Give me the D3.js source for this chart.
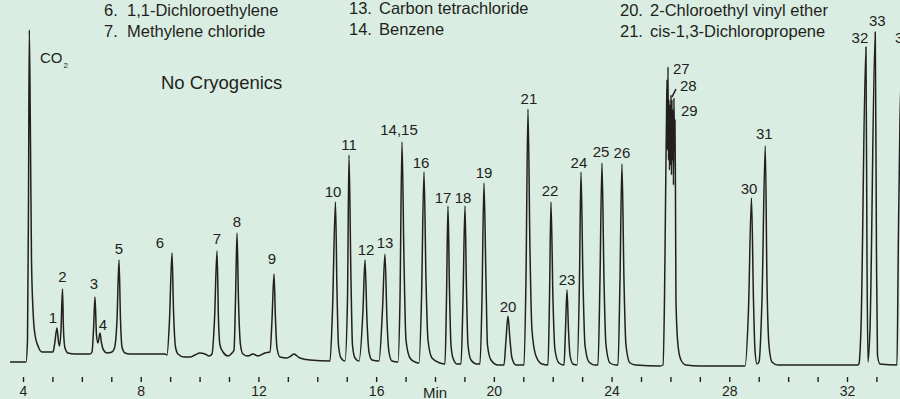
<!DOCTYPE html>
<html>
<head>
<meta charset="utf-8">
<script src="https://cdn.jsdelivr.net/npm/d3@7"></script>
<style>
html,body{margin:0;padding:0;background:#d9ede2;}
svg{display:block;}
text{font-family:"Liberation Sans",Arial,Helvetica,sans-serif;fill:#231f20;}
</style>
</head>
<body>
<svg id="chart" width="900" height="399"></svg>
<script>
// ---------- data (time in minutes, detector response in arbitrary units) ----------
const traceTime = [
  3.558, 4.102, 4.153, 4.187, 4.214, 4.248, 4.289, 4.340, 4.408, 4.510, 4.646, 4.849, 5.019,
  5.070, 5.155, 5.206, 5.240, 5.291, 5.342, 5.376, 5.427, 5.529, 5.767, 6.277, 6.345,
  6.396, 6.446, 6.497, 6.548, 6.616, 6.667, 6.735, 6.854, 7.024, 7.109,
  7.194, 7.262, 7.313, 7.364, 7.466, 7.636, 8.315, 8.825, 8.893,
  8.978, 9.063, 9.114, 9.182, 9.267, 9.471, 9.675, 9.844, 10.014, 10.184, 10.320, 10.422,
  10.507, 10.592, 10.643, 10.694, 10.796, 10.966, 11.102, 11.170,
  11.221, 11.272, 11.322, 11.390, 11.475, 11.645, 11.815, 11.985, 12.223, 12.393,
  12.461, 12.529, 12.580, 12.631, 12.733, 12.970, 13.106, 13.208, 13.310, 13.412, 13.752, 14.432,
  14.517, 14.618, 14.669, 14.720, 14.805, 14.941,
  15.026, 15.077, 15.145, 15.196, 15.281, 15.417,
  15.553, 15.621, 15.689, 15.757, 15.859, 16.097,
  16.215, 16.300, 16.368, 16.436, 16.538, 16.742,
  16.810, 16.878, 16.946, 17.014, 17.150, 17.320, 17.456,
  17.541, 17.626, 17.694, 17.762, 17.897, 18.169, 18.339,
  18.390, 18.441, 18.492, 18.543, 18.611, 18.747, 18.883,
  18.951, 19.019, 19.070, 19.121, 19.223, 19.427, 19.528,
  19.596, 19.664, 19.732, 19.783, 19.902, 20.140, 20.344,
  20.412, 20.480, 20.548, 20.616, 20.752, 21.024,
  21.091, 21.159, 21.227, 21.295, 21.431, 21.635, 21.839,
  21.890, 21.941, 22.009, 22.077, 22.213, 22.383,
  22.434, 22.485, 22.536, 22.587, 22.688, 22.824,
  22.909, 22.960, 23.028, 23.096, 23.232, 23.436, 23.538,
  23.606, 23.674, 23.742, 23.810, 23.946, 24.150, 24.218,
  24.286, 24.353, 24.421, 24.489, 24.625, 24.829, 25.645, 25.747,
  25.798, 25.849, 25.866, 25.883, 25.900, 25.917, 25.934, 25.950, 25.967, 25.984, 26.001,
  26.018, 26.035, 26.052, 26.069, 26.086, 26.103, 26.120, 26.137, 26.154, 26.171,
  26.188, 26.256, 26.358, 26.528, 27.004, 28.533,
  28.652, 28.754, 28.822, 28.873, 28.941, 29.009,
  29.111, 29.223, 29.280, 29.348, 29.450, 29.654, 32.373,
  32.406, 32.474, 32.644, 32.678, 32.712,
  32.780, 32.960, 33.001, 33.035, 33.120, 33.698,
  33.742, 33.800, 33.902
];
const traceSignal = [
  8, 8, 30, 170, 340, 250, 110, 60, 35, 24, 18, 18, 18,
  25, 42, 28, 24, 40, 81, 40, 22, 17, 16, 16, 18,
  40, 73, 35, 27, 37, 27, 20, 17, 18, 22,
  50, 110, 50, 23, 17, 16, 16, 16, 15,
  50, 117, 60, 23, 16, 13, 13, 15, 17, 16, 14, 16,
  50, 119, 50, 25, 18, 14, 17, 20,
  70, 137, 70, 25, 16, 14, 16, 14, 17, 18,
  50, 96, 50, 22, 13, 12, 14, 16, 14, 12, 10, 9,
  60, 168, 80, 25, 12, 9,
  70, 215, 90, 25, 12, 9,
  60, 110, 50, 18, 10, 9,
  60, 116, 50, 18, 9, 8,
  70, 228, 110, 30, 12, 8, 7,
  70, 198, 90, 30, 12, 7, 6,
  70, 164, 80, 25, 12, 6, 6,
  70, 164, 80, 25, 10, 6, 6,
  70, 187, 90, 25, 10, 5, 5,
  30, 54, 30, 12, 5, 5,
  90, 261, 120, 40, 14, 6, 5,
  70, 168, 70, 20, 7, 5,
  40, 80, 40, 15, 6, 5,
  90, 198, 90, 25, 8, 5, 5,
  90, 207, 90, 25, 7, 5, 5,
  90, 206, 90, 25, 7, 5, 4, 5,
  70, 210, 250, 290, 220, 303, 210, 270, 200, 265, 205,
  275, 195, 270, 210, 260, 185, 272, 220, 250, 180,
  70, 25, 10, 5, 4, 4,
  60, 172, 70, 20, 6, 8,
  70, 224, 90, 25, 8, 5, 5,
  6, 40, 323, 120, 8,
  40, 338, 120, 15, 6, 5,
  120, 250, 322
];

// labelled peaks (apex retention time and response)
const peakLabels  = ["1","2","3","4","5","6","7","8","9","10","11","12","13","14,15","16","17","18","19",
                     "20","21","22","23","24","25","26","27","28","29","30","31","32","33","34"];
const peakTimes   = [5.155, 5.342, 6.446, 6.616, 7.262, 9.063, 10.592, 11.272, 12.529, 14.618, 15.077,
                     15.621, 16.300, 16.878, 17.626, 18.441, 19.019, 19.664, 20.480, 21.159, 21.941,
                     22.485, 22.960, 23.674, 24.353, 25.917, 26.018, 26.120, 28.754, 29.223, 32.644,
                     32.960, 33.902];
const peakSignals = [42, 81, 73, 37, 110, 117, 119, 137, 96, 168, 215, 110, 116, 228, 198, 164, 164, 187,
                     54, 261, 168, 80, 198, 207, 206, 303, 275, 272, 172, 224, 323, 338, 322];

const co2Time = 4.214, co2Signal = 340;

const tickMinutes = d3.range(4, 34);
const tickLabelMinutes = [4, 8, 12, 16, 20, 24, 28, 32];

const legendNumbers = [["6.", "7."], ["13.", "14."], ["20.", "21."]];
const legendNames = [
  ["1,1-Dichloroethylene", "Methylene chloride"],
  ["Carbon tetrachloride", "Benzene"],
  ["2-Chloroethyl vinyl ether", "cis-1,3-Dichloropropene"]
];

// ---------- layout ----------
const W = 900, H = 399;
const legendLayout = [
  {numX: 104, nameX: 127, base: [16, 37]},
  {numX: 349, nameX: 379, base: [14, 34.5]},
  {numX: 620, nameX: 650, base: [16, 37]}
];
// label offsets (px) from apex: dx horizontal, dy = label centre relative to apex
const labelNudge = {
  "1":[-4,-10], "2":[0,-12], "3":[-1,-13], "4":[3,-8], "5":[0,-11], "6":[-12,-10],
  "7":[0,-12], "8":[0,-11], "9":[-2,-15], "10":[-2.5,-10], "11":[0,-10], "12":[1,-10],
  "13":[0,-11], "14,15":[-3,-12], "16":[-3,-9], "17":[-5,-8], "18":[-2,-8], "19":[0,-10],
  "20":[0,-9], "21":[1,-10], "22":[-1,-11], "23":[0,-10], "24":[-2,-9], "25":[-1,-11],
  "26":[0,-11], "27":[5,2,"start"], "28":[9,-9,"start"], "29":[7,13,"start"], "30":[-2.5,-9],
  "31":[-1,-12], "32":[-6,-9], "33":[2,-11], "34":[-8,-10,"start"]
};

const svg = d3.select("#chart");
svg.append("rect").attr("width", W).attr("height", H).attr("fill", "#d9ede2");

const x = d3.scaleLinear().domain([4, 32]).range([23, 847]);
const y = d3.scaleLinear().domain([0, 340]).range([370, 30]);

svg.append("defs").append("clipPath").attr("id", "clip")
  .append("rect").attr("x", 0).attr("y", 0).attr("width", W).attr("height", H);

// ---------- trace ----------
const pts = traceTime.map((t, i) => [t, traceSignal[i]]);
const line = d3.line().x(d => x(d[0])).y(d => y(d[1])).curve(d3.curveMonotoneX);
svg.append("path")
  .datum(pts)
  .attr("clip-path", "url(#clip)")
  .attr("d", line)
  .attr("fill", "none")
  .attr("stroke", "#231f20")
  .attr("stroke-width", 1.5)
  .attr("stroke-linejoin", "round");

// ---------- peak labels ----------
const labelSize = 15;
const lg = svg.append("g").attr("font-size", labelSize);
peakLabels.forEach((lab, i) => {
  const nd = labelNudge[lab] || [0, -10.5];
  lg.append("text")
    .attr("x", x(peakTimes[i]) + nd[0])
    .attr("y", y(peakSignals[i]) + nd[1] + labelSize * 0.358)
    .attr("text-anchor", nd[2] || "middle")
    .text(lab);
});
// pointer for peak 28
{
  const i = peakLabels.indexOf("28");
  const px = x(peakTimes[i]), py = y(peakSignals[i]);
  svg.append("line")
    .attr("x1", px + 1).attr("y1", py + 2)
    .attr("x2", px + 5).attr("y2", py - 6)
    .attr("stroke", "#231f20").attr("stroke-width", 1.6);
}

// CO2 label
{
  const t = svg.append("text")
    .attr("x", x(co2Time) + 10.7)
    .attr("y", y(co2Signal) + 33)
    .attr("font-size", 15);
  t.append("tspan").text("CO");
  t.append("tspan").attr("font-size", 8).attr("dx", 1).attr("dy", 4.5).text("2");
}

// No Cryogenics
svg.append("text").attr("x", 161).attr("y", 89.3).attr("font-size", 18.5).text("No Cryogenics");

// ---------- legend ----------
legendNumbers.forEach((col, c) => {
  col.forEach((num, r) => {
    const L = legendLayout[c];
    svg.append("text").attr("x", L.numX).attr("y", L.base[r]).attr("font-size", 16.5).text(num);
    svg.append("text").attr("x", L.nameX).attr("y", L.base[r]).attr("font-size", 16.5).text(legendNames[c][r]);
  });
});

// ---------- axis ----------
const axis = d3.axisBottom(x)
  .tickValues(tickMinutes)
  .tickSize(5)
  .tickPadding(4.5)
  .tickFormat(d => tickLabelMinutes.includes(d) ? d : "");
const ag = svg.append("g").attr("transform", "translate(0,377)").call(axis);
ag.select(".domain").remove();
ag.selectAll(".tick line").attr("stroke", "#231f20").attr("stroke-width", 1.4);
ag.selectAll(".tick text").attr("fill", "#231f20").attr("font-size", 14)
  .attr("font-family", "'Liberation Sans',Arial,Helvetica,sans-serif");

svg.append("text").attr("x", 435).attr("y", 398).attr("font-size", 15)
  .attr("text-anchor", "middle").text("Min");
</script>
</body>
</html>
